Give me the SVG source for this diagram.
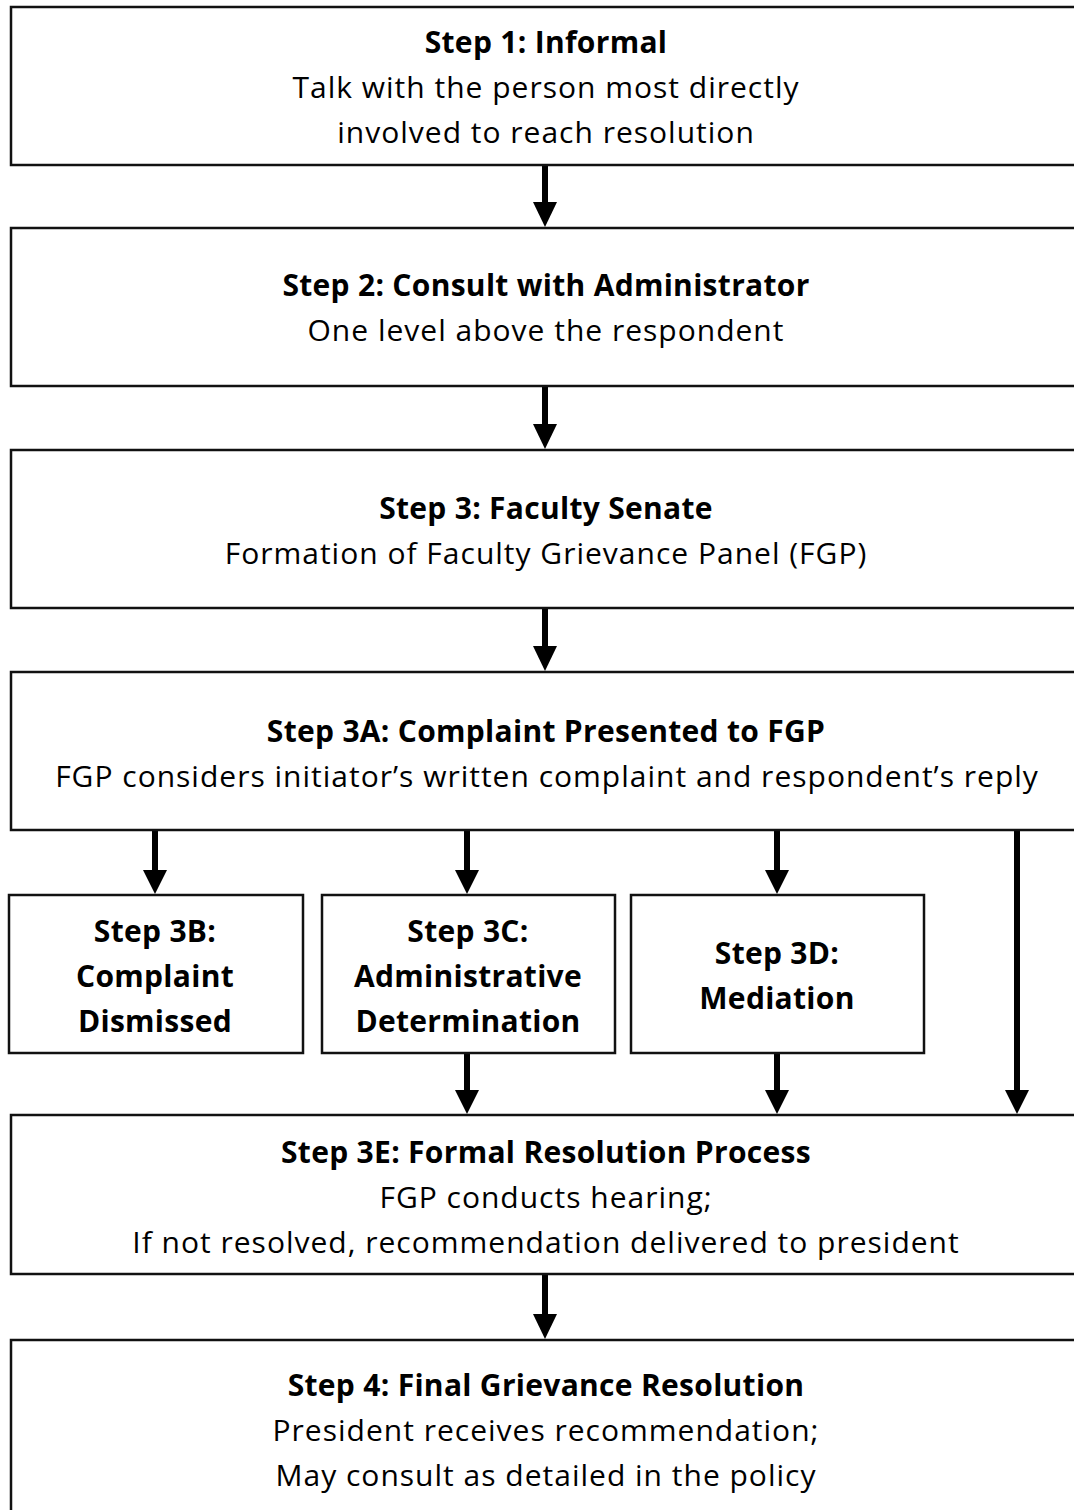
<svg xmlns="http://www.w3.org/2000/svg" width="1074" height="1510" viewBox="0 0 1074 1510">
<defs>
<style>
.box{fill:#fff;stroke:#111;stroke-width:2.5}
.t{font-family:"Open Sans","Liberation Sans",Arial,sans-serif;font-size:30px;fill:#000;text-anchor:middle;letter-spacing:1px}
.b{font-weight:bold;letter-spacing:0.3px}
.c{stroke:#000;stroke-width:6;fill:none}
</style>
</defs>
<rect width="1074" height="1510" fill="#fff"/>
<g id="connectors">
<path d="M545,165 V204" class="c"/><path d="M533,202 H557 L545,227 Z"/>
<path d="M545,386 V426" class="c"/><path d="M533,424 H557 L545,449 Z"/>
<path d="M545,608 V648" class="c"/><path d="M533,646 H557 L545,671 Z"/>
<path d="M155,830 V872" class="c"/><path d="M143,870 H167 L155,894 Z"/>
<path d="M467,830 V872" class="c"/><path d="M455,870 H479 L467,894 Z"/>
<path d="M777,830 V872" class="c"/><path d="M765,870 H789 L777,894 Z"/>
<path d="M467,1053 V1092" class="c"/><path d="M455,1090 H479 L467,1114 Z"/>
<path d="M777,1053 V1092" class="c"/><path d="M765,1090 H789 L777,1114 Z"/>
<path d="M1017,830 V1092" class="c"/><path d="M1005,1090 H1029 L1017,1114 Z"/>
<path d="M545,1274 V1316" class="c"/><path d="M533,1314 H557 L545,1339 Z"/>
</g>
<g id="step1">
<rect class="box" x="11" y="7" width="1080" height="158"/>
<text class="t b" x="546" y="53">Step 1: Informal</text>
<text class="t" x="546" y="98">Talk with the person most directly</text>
<text class="t" x="546" y="143">involved to reach resolution</text>
</g>
<g id="step2">
<rect class="box" x="11" y="228" width="1080" height="158"/>
<text class="t b" x="546" y="296">Step 2: Consult with Administrator</text>
<text class="t" x="546" y="341">One level above the respondent</text>
</g>
<g id="step3">
<rect class="box" x="11" y="450" width="1080" height="158"/>
<text class="t b" x="546" y="519">Step 3: Faculty Senate</text>
<text class="t" x="546" y="564">Formation of Faculty Grievance Panel (FGP)</text>
</g>
<g id="step3a">
<rect class="box" x="11" y="672" width="1080" height="158"/>
<text class="t b" x="546" y="742">Step 3A: Complaint Presented to FGP</text>
<text class="t" x="547" y="787">FGP considers initiator’s written complaint and respondent’s reply</text>
</g>
<g id="step3b">
<rect class="box" x="9" y="895" width="294" height="158"/>
<text class="t b" x="155" y="942">Step 3B:</text>
<text class="t b" x="155" y="987">Complaint</text>
<text class="t b" x="155" y="1032">Dismissed</text>
</g>
<g id="step3c">
<rect class="box" x="322" y="895" width="293" height="158"/>
<text class="t b" x="468" y="942">Step 3C:</text>
<text class="t b" x="468" y="987">Administrative</text>
<text class="t b" x="468" y="1032">Determination</text>
</g>
<g id="step3d">
<rect class="box" x="631" y="895" width="293" height="158"/>
<text class="t b" x="777" y="964">Step 3D:</text>
<text class="t b" x="777" y="1009">Mediation</text>
</g>
<g id="step3e">
<rect class="box" x="11" y="1115" width="1080" height="159"/>
<text class="t b" x="546" y="1163">Step 3E: Formal Resolution Process</text>
<text class="t" x="546" y="1208">FGP conducts hearing;</text>
<text class="t" x="546" y="1253">If not resolved, recommendation delivered to president</text>
</g>
<g id="step4">
<rect class="box" x="11" y="1340" width="1080" height="200"/>
<text class="t b" x="546" y="1396">Step 4: Final Grievance Resolution</text>
<text class="t" x="546" y="1441">President receives recommendation;</text>
<text class="t" x="546" y="1486">May consult as detailed in the policy</text>
</g>
</svg>
